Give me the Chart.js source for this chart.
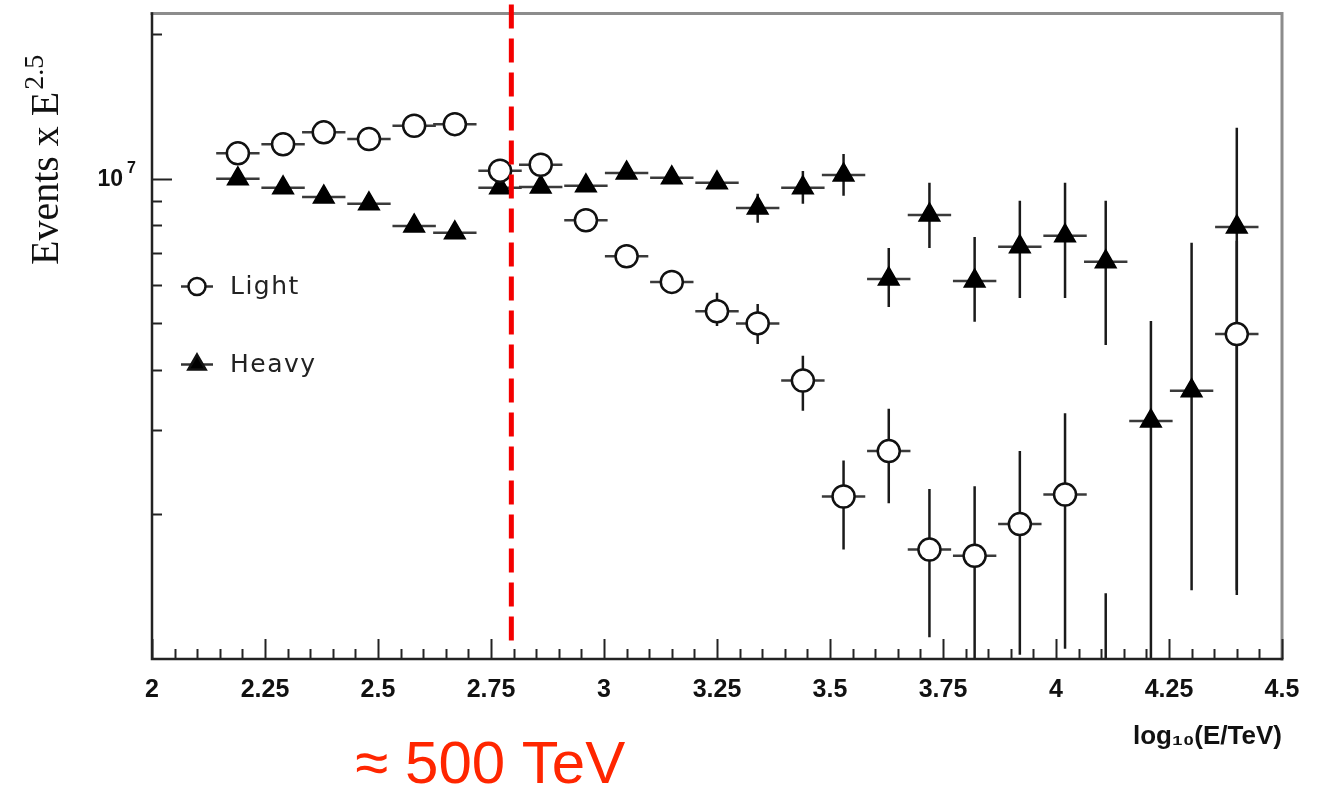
<!DOCTYPE html>
<html>
<head>
<meta charset="utf-8">
<title>Light and heavy components</title>
<script src="https://cdn.jsdelivr.net/npm/chart.js@4.4.1/dist/chart.umd.min.js"></script>
<style>
  html, body { margin: 0; padding: 0; background: #fff; }
  #wrap { width: 1320px; height: 788px; position: relative; }
</style>
</head>
<body>
<div id="wrap"><canvas id="spectrum"></canvas></div>
<script>
// bin centres, log10(E/TeV)
const logE = [2.19, 2.29, 2.38, 2.48, 2.58, 2.67, 2.77, 2.86, 2.96, 3.05, 3.15, 3.25,
              3.34, 3.44, 3.53, 3.63, 3.72, 3.82, 3.92, 4.02, 4.11, 4.21, 4.30, 4.40];
const binHalf = 0.048;

// Events x E^2.5, light component (null = below the plotted range)
const light = [1.13e7, 1.18e7, 1.25e7, 1.21e7, 1.29e7, 1.30e7, 1.04e7, 1.07e7, 8.2e6, 6.9e6, 6.1e6, 5.3e6,
               5.0e6, 3.8e6, 2.18e6, 2.71e6, 1.69e6, 1.64e6, 1.91e6, 2.2e6, null, null, null, 4.75e6];
const lightHi = [null, null, null, null, null, null, null, null, null, null, null, 5.79e6,
                 5.49e6, 4.28e6, 2.59e6, 3.32e6, 2.26e6, 2.29e6, 2.71e6, 3.25e6, 1.37e6, null, null, 7.43e6];
const lightLo = [null, null, null, null, null, null, null, null, null, null, null, 4.94e6,
                 4.53e6, 3.29e6, 1.69e6, 2.11e6, 1.11e6, 9e5, 1.02e6, 1.05e6, 9e5, null, null, 1.39e6];

// heavy component
const heavy = [1.0e7, 9.58e6, 9.17e6, 8.87e6, 7.98e6, 7.72e6, 9.58e6, 9.62e6, 9.67e6, 1.029e7, 1.005e7, 9.81e6,
               8.7e6, 9.58e6, 1.019e7, 6.19e6, 8.41e6, 6.13e6, 7.22e6, 7.61e6, 6.72e6, 3.13e6, 3.62e6, 7.94e6];
const heavyHi = [null, null, null, null, null, null, null, null, null, null, null, null,
                 9.31e6, 1.039e7, 1.127e7, 7.18e6, 9.81e6, 7.57e6, 9.0e6, 9.81e6, 9.0e6, 5.06e6, 7.36e6, 1.277e7];
const heavyLo = [null, null, null, null, null, null, null, null, null, null, null, null,
                 8.1e6, 8.87e6, 9.22e6, 5.41e6, 7.18e6, 5.04e6, 5.65e6, 5.65e6, 4.51e6, 9e5, 1.39e6, 1.36e6];

const xTickLabels = [2, 2.25, 2.5, 2.75, 3, 3.25, 3.5, 3.75, 4, 4.25, 4.5];
const yMin = 1e6;
const yMax = 2.21e7;
const yLabelValue = 1e7;

const cutLog = 2.795;
const cutLabel = '\u2248 500 TeV';

function pointsOf(values) {
  const out = [];
  logE.forEach((x, i) => { if (values[i] != null) out.push({ x: x, y: values[i] }); });
  return out;
}

function isLabelled(v) {
  return xTickLabels.some(t => Math.abs(t - v) < 1e-6);
}

// bin widths and statistical errors, drawn under the markers
const errorBars = {
  id: 'errorBars',
  beforeDatasetsDraw(chart) {
    const { ctx, chartArea: a, scales: { x, y } } = chart;
    ctx.save();
    ctx.beginPath();
    ctx.rect(a.left, a.top, a.right - a.left, a.bottom - a.top);
    ctx.clip();
    const sets = [
      { v: light, hi: lightHi, lo: lightLo },
      { v: heavy, hi: heavyHi, lo: heavyLo }
    ];
    sets.forEach(s => {
      logE.forEach((e, i) => {
        const px = x.getPixelForValue(e);
        if (s.v[i] != null) {
          const py = y.getPixelForValue(s.v[i]);
          ctx.strokeStyle = '#3a3a3a';
          ctx.lineWidth = 2.5;
          ctx.beginPath();
          ctx.moveTo(x.getPixelForValue(e - binHalf), py);
          ctx.lineTo(x.getPixelForValue(e + binHalf), py);
          ctx.stroke();
        }
        if (s.hi[i] != null || s.lo[i] != null) {
          const top = y.getPixelForValue(s.hi[i] != null ? s.hi[i] : s.v[i]);
          const bot = y.getPixelForValue(s.lo[i] != null ? s.lo[i] : s.v[i]);
          ctx.strokeStyle = '#1a1a1a';
          ctx.lineWidth = 2.5;
          ctx.beginPath();
          ctx.moveTo(px, top);
          ctx.lineTo(px, bot);
          ctx.stroke();
        }
      });
    });
    ctx.restore();
  }
};

// box, inward ticks, cut line and the hand-placed texts
const decorations = {
  id: 'decorations',
  afterDatasetsDraw(chart) {
    const { ctx, chartArea: a, scales: { x, y } } = chart;
    ctx.save();

    // frame: grey top/right, dark bottom/left
    ctx.lineCap = 'square';
    ctx.strokeStyle = '#8c8c8c';
    ctx.lineWidth = 3;
    ctx.beginPath();
    ctx.moveTo(a.left, a.top);
    ctx.lineTo(a.right, a.top);
    ctx.lineTo(a.right, a.bottom);
    ctx.stroke();
    ctx.strokeStyle = '#222';
    ctx.lineWidth = 2.5;
    ctx.beginPath();
    ctx.moveTo(a.left, a.top);
    ctx.lineTo(a.left, a.bottom);
    ctx.lineTo(a.right, a.bottom);
    ctx.stroke();

    ctx.lineCap = 'butt';
    ctx.lineWidth = 2;
    ctx.strokeStyle = '#222';
    x.ticks.forEach(t => {
      const px = Math.round(x.getPixelForValue(t.value)) + 0.5;
      const len = isLabelled(t.value) ? 20 : 10;
      ctx.beginPath();
      ctx.moveTo(px, a.bottom);
      ctx.lineTo(px, a.bottom - len);
      ctx.stroke();
    });
    y.ticks.forEach(t => {
      const mag = Math.pow(10, Math.floor(Math.log10(t.value)));
      const sig = t.value / mag;
      if (Math.abs(sig - Math.round(sig)) > 1e-6) return;
      if (t.value <= yMin) return;
      const py = Math.round(y.getPixelForValue(t.value)) + 0.5;
      const len = t.value === yLabelValue ? 20 : 10;
      ctx.beginPath();
      ctx.moveTo(a.left, py);
      ctx.lineTo(a.left + len, py);
      ctx.stroke();
    });

    // y tick label 10^7
    const py7 = y.getPixelForValue(yLabelValue);
    ctx.fillStyle = '#111';
    ctx.font = 'bold 23px "Liberation Sans", Arial, sans-serif';
    ctx.textAlign = 'right';
    ctx.textBaseline = 'middle';
    ctx.fillText('10', a.left - 29, py7 + 1);
    ctx.font = 'bold 16px "Liberation Sans", Arial, sans-serif';
    ctx.textAlign = 'left';
    ctx.fillText('7', a.left - 25, py7 - 10);

    // cut line
    const cx = x.getPixelForValue(cutLog);
    ctx.strokeStyle = '#f40000';
    ctx.lineWidth = 5;
    ctx.setLineDash([24, 10]);
    ctx.beginPath();
    ctx.moveTo(cx, a.top - 9);
    ctx.lineTo(cx, a.bottom - 16);
    ctx.stroke();
    ctx.setLineDash([]);

    ctx.fillStyle = '#ff2600';
    ctx.font = '60px "Liberation Sans", Arial, sans-serif';
    ctx.textAlign = 'center';
    ctx.textBaseline = 'alphabetic';
    ctx.fillText(cutLabel, cx - 21, 783);

    // y title, rotated, serif with superscript
    ctx.save();
    ctx.translate(58, 265);
    ctx.rotate(-Math.PI / 2);
    ctx.fillStyle = '#111';
    ctx.textAlign = 'left';
    ctx.font = '40px "Liberation Serif", "Times New Roman", serif';
    const base = 'Events x E';
    ctx.fillText(base, 0, 0);
    const w = ctx.measureText(base).width;
    ctx.font = '28px "Liberation Serif", "Times New Roman", serif';
    ctx.fillText('2.5', w + 2, -15);
    ctx.restore();

    // key
    chart.data.datasets.forEach((ds, i) => {
      const ky = a.top + 273 + i * 78;
      const kx = a.left + 45;
      ctx.strokeStyle = '#333';
      ctx.lineWidth = 2.5;
      ctx.beginPath();
      ctx.moveTo(kx - 16, ky);
      ctx.lineTo(kx + 16, ky);
      ctx.stroke();
      ctx.lineWidth = 2.5;
      ctx.strokeStyle = '#111';
      ctx.fillStyle = ds.pointBackgroundColor;
      ctx.beginPath();
      if (ds.pointStyle === 'triangle') {
        const r = 10;
        ctx.moveTo(kx, ky - r);
        ctx.lineTo(kx + r * 0.866, ky + r * 0.5);
        ctx.lineTo(kx - r * 0.866, ky + r * 0.5);
        ctx.closePath();
      } else {
        ctx.arc(kx, ky, 8.5, 0, Math.PI * 2);
      }
      ctx.fill();
      ctx.stroke();
      ctx.fillStyle = '#222';
      ctx.font = '25px "DejaVu Sans", sans-serif';
      ctx.letterSpacing = '1.5px';
      ctx.textAlign = 'left';
      ctx.textBaseline = 'middle';
      ctx.fillText(ds.label, a.left + 78, ky + 1);
      ctx.letterSpacing = '0px';
    });

    ctx.restore();
  }
};

new Chart(document.getElementById('spectrum'), {
  type: 'scatter',
  data: {
    datasets: [
      {
        label: 'Light',
        data: pointsOf(light),
        pointStyle: 'circle',
        pointRadius: 11,
        pointBorderWidth: 2.5,
        pointBackgroundColor: '#ffffff',
        pointBorderColor: '#111111',
        showLine: false
      },
      {
        label: 'Heavy',
        data: pointsOf(heavy),
        pointStyle: 'triangle',
        pointRadius: 12,
        pointBorderWidth: 1.5,
        pointBackgroundColor: '#000000',
        pointBorderColor: '#000000',
        showLine: false
      }
    ]
  },
  options: {
    responsive: true,
    maintainAspectRatio: false,
    animation: false,
    layout: { padding: { top: 12, right: 38, left: 0, bottom: 0 } },
    plugins: {
      legend: { display: false },
      tooltip: { enabled: false }
    },
    scales: {
      x: {
        type: 'linear',
        min: 2,
        max: 4.5,
        grid: { display: false, drawTicks: false, tickLength: 0 },
        border: { display: false },
        ticks: {
          stepSize: 0.05,
          autoSkip: false,
          maxRotation: 0,
          padding: 16,
          color: '#111',
          font: { family: '"Liberation Sans", Arial, sans-serif', size: 25, weight: 'bold' },
          callback: (v) => isLabelled(v) ? String(Math.round(v * 100) / 100) : ''
        },
        title: {
          display: true,
          text: 'log\u2081\u2080(E/TeV)',
          align: 'end',
          color: '#111',
          font: { family: '"Liberation Sans", Arial, sans-serif', size: 26, weight: 'bold' },
          padding: { top: 0, bottom: 36 }
        },
        afterFit: (scale) => { scale.height = 129; }
      },
      y: {
        type: 'logarithmic',
        min: yMin,
        max: yMax,
        grid: { display: false, drawTicks: false, tickLength: 0 },
        border: { display: false },
        ticks: { display: false },
        afterFit: (scale) => { scale.width = 152; }
      }
    }
  },
  plugins: [errorBars, decorations]
});
</script>
</body>
</html>
